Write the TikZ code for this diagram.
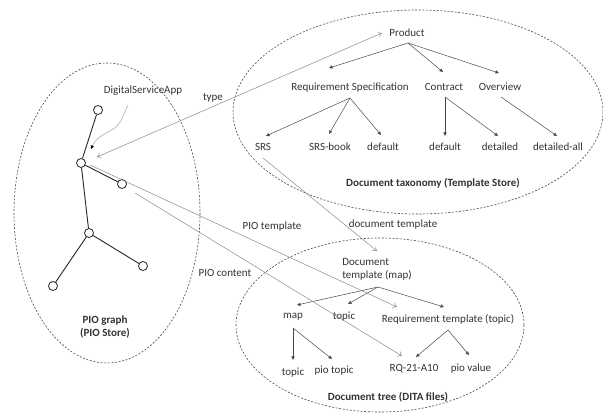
\documentclass[tikz,border=0pt]{standalone}
\usepackage{fontspec}
\setmainfont{Carlito}
\usetikzlibrary{arrows.meta}
\definecolor{ink}{HTML}{333333}
\definecolor{linkgray}{HTML}{8A8A8A}
\definecolor{treegray}{HTML}{4A4A4A}
\begin{document}
\begin{tikzpicture}[x=1pt,y=-1pt,
  every node/.style={font=\fontsize{11}{13}\selectfont, text=ink, inner sep=1pt},
  titlelabel/.style={font=\fontsize{11}{13}\selectfont\bfseries, text=ink},
  storeoval/.style={draw=treegray, line width=0.6pt, dash pattern=on 2pt off 1.6pt},
  treearrow/.style={draw=treegray, line width=0.5pt, -{Triangle[length=3.5pt,width=3.2pt]}},
  crosslink/.style={draw=linkgray, line width=0.5pt, -{To[length=4pt,width=6pt]}},
  pioedge/.style={draw=black!85, line width=0.9pt},
  pionode/.style={circle, draw=black!85, line width=0.8pt, fill=white, minimum size=9pt, inner sep=0pt}
]
\useasboundingbox (0,0) rectangle (603,414);

% stores
\draw[storeoval] (418,112) ellipse [x radius=185, y radius=102];
\draw[storeoval] (107,213) ellipse [x radius=93, y radius=150];
\draw[storeoval] (380,325) ellipse [x radius=144, y radius=87];

% document taxonomy
\node (product)     at (407,33)  {Product};
\node (reqspec)     at (350,88)  {Requirement Specification};
\node (contract)    at (444,87)  {Contract};
\node (overview)    at (500,87)  {Overview};
\node (srs)         at (263,147) {SRS};
\node (srsbook)     at (330,147) {SRS-book};
\node (defA)        at (383,147) {default};
\node (defB)        at (445,147) {default};
\node (detailed)    at (500,147) {detailed};
\node (detailedall) at (558,147) {detailed-all};
\node[titlelabel] (taxtitle) at (433,183) {Document taxonomy (Template Store)};

\draw[treearrow] ([shift={(1,10)}]product.center) -- ([shift={(-21,-20)}]reqspec.center);
\draw[treearrow] ([shift={(1,10)}]product.center) -- ([shift={(-1,-15)}]contract.center);
\draw[treearrow] ([shift={(1,10)}]product.center) -- ([shift={(-1,-14)}]overview.center);
\draw[treearrow] ([shift={(0,10)}]reqspec.center) -- ([shift={(3,-11)}]srs.center);
\draw[treearrow] ([shift={(0,10)}]reqspec.center) -- ([shift={(-1,-13)}]srsbook.center);
\draw[treearrow] ([shift={(0,10)}]reqspec.center) -- ([shift={(-2,-12)}]defA.center);
\draw[treearrow] ([shift={(1,10)}]contract.center) -- ([shift={(0,-11)}]defB.center);
\draw[treearrow] ([shift={(1,10)}]contract.center) -- ([shift={(-2,-11)}]detailed.center);
\draw[treearrow] ([shift={(1,10)}]overview.center) -- ([shift={(-1,-11)}]detailedall.center);

% PIO graph
\node[pionode] (n1) at (98,110) {};
\node[pionode] (n2) at (81,163) {};
\node[pionode] (n3) at (122,184) {};
\node[pionode] (n4) at (89,233) {};
\node[pionode] (n5) at (143,266) {};
\node[pionode] (n6) at (53,286) {};
\draw[pioedge] (n1) -- (n2);
\draw[pioedge] (n2) -- (n3);
\draw[pioedge] (n2) -- (n4);
\draw[pioedge] (n4) -- (n5);
\draw[pioedge] (n4) -- (n6);
\node (dsa) at (143,91) {DigitalServiceApp};
\node[titlelabel, align=center] (piotitle) at (105,327) {PIO graph\\(PIO Store)};
\draw[draw=black!35, line width=0.5pt, -{Triangle[length=3.5pt,width=3.2pt,color=black]}]
  ([shift={(-15,14)}]dsa.center) .. controls (122,118) and (121,126) .. (108,132)
  .. controls (98,137) and (94,142) .. (91,149);

% document tree
\node[align=left] (doctpl) at (377,269) {Document\\template (map)};
\node (map)      at (293,317) {map};
\node (topicA)   at (344,317) {topic};
\node (reqtpl)   at (448,319) {Requirement template (topic)};
\node (topicB)   at (293,373) {topic};
\node (piotopic) at (334,371) {pio topic};
\node (rq)       at (414,369) {RQ-21-A10};
\node (piovalue) at (471,369) {pio value};
\node[titlelabel] (dtitle) at (388,397) {Document tree (DITA files)};

\draw[treearrow] ([shift={(1,18)}]doctpl.center) -- ([shift={(4,-12)}]map.center);
\draw[treearrow] ([shift={(1,18)}]doctpl.center) -- ([shift={(4,-13)}]topicA.center);
\draw[treearrow] ([shift={(1,18)}]doctpl.center) -- ([shift={(-4,-12)}]reqtpl.center);
\draw[treearrow] ([shift={(0,11)}]map.center) -- ([shift={(0,-13)}]topicB.center);
\draw[treearrow] ([shift={(0,11)}]map.center) -- ([shift={(-2,-12)}]piotopic.center);
\draw[treearrow] ([shift={(0,11)}]reqtpl.center) -- ([shift={(2,-12)}]rq.center);
\draw[treearrow] ([shift={(0,11)}]reqtpl.center) -- ([shift={(-2,-14)}]piovalue.center);

% links between the stores
\draw[crosslink, {To[length=4pt,width=6pt]}-{To[length=4pt,width=6pt]}]
  ([shift={(16,-6)}]n2.center) -- ([shift={(-25,0)}]product.center);
\node (typelbl) at (213,98) {type};
\draw[crosslink] ([shift={(0,11)}]srs.center) -- ([shift={(0,-18)}]doctpl.center);
\node (doclbl) at (393,225) {document template};
\draw[crosslink] ([shift={(9,2)}]n2.center) -- ([shift={(-51,-12)}]reqtpl.center);
\node (tpllbl) at (272,227) {PIO template};
\coordinate (contentstart) at (135,193);
\draw[crosslink] (contentstart) -- ([shift={(-12,-13)}]rq.center);
\node (contentlbl) at (225,273) {PIO content};
\end{tikzpicture}
\end{document}
